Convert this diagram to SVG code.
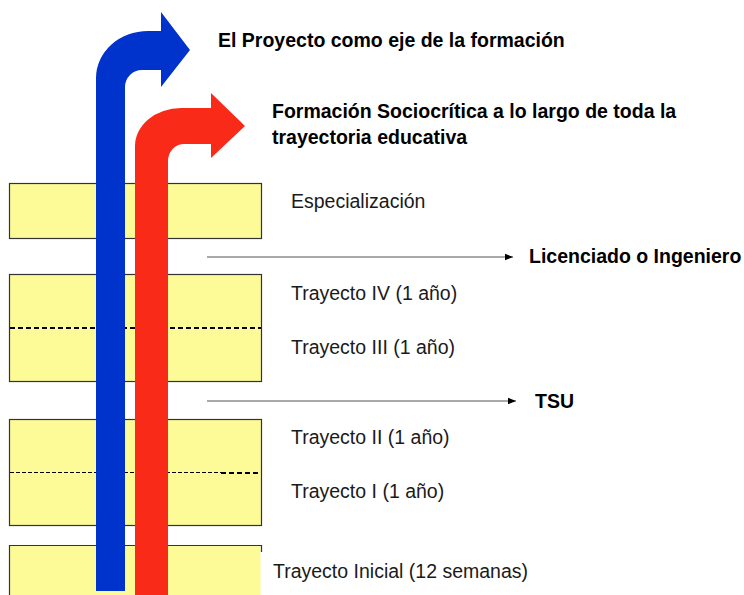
<svg xmlns="http://www.w3.org/2000/svg" width="744" height="595" viewBox="0 0 744 595">
  <style>
    .box { fill: #FCFB97; stroke: #333333; stroke-width: 1.2; }
    .fill { fill: #FCFB97; }
    .edge { fill: none; stroke: #333333; stroke-width: 1.2; }
    .dash { stroke: #000000; stroke-width: 2; stroke-dasharray: 5 3; fill: none; }
    .dashthin { stroke: #000000; stroke-width: 1; stroke-dasharray: 4 2; fill: none; }
    .lbl { font-family: "Liberation Sans", Arial, sans-serif; font-size: 19.5px; fill: #1a1a1a; }
    .bold { font-family: "Liberation Sans", Arial, sans-serif; font-size: 19.5px; font-weight: bold; fill: #000000; }
    .conn { stroke: #555555; stroke-width: 1.2; fill: none; }
  </style>
  <defs>
    <marker id="ah" viewBox="0 0 10 10" refX="10" refY="5" markerWidth="8" markerHeight="8" markerUnits="userSpaceOnUse" orient="auto">
      <path d="M0,1 L10,5 L0,9 Z" fill="#000000"/>
    </marker>
  </defs>

  <rect width="744" height="595" fill="#ffffff"/>

  <!-- levels -->
  <g id="especializacion">
    <rect class="box" x="9.5" y="183.5" width="252" height="55"/>
    <text class="lbl" x="291" y="208">Especialización</text>
  </g>
  <g id="trayectos-iii-iv">
    <rect class="box" x="9.5" y="274.5" width="252" height="107"/>
    <line class="dash" x1="10" y1="328" x2="261" y2="328"/>
    <text class="lbl" x="291" y="300">Trayecto IV (1 año)</text>
    <text class="lbl" x="291" y="354">Trayecto III (1 año)</text>
  </g>
  <g id="trayectos-i-ii">
    <rect class="box" x="9.5" y="419.5" width="252" height="106"/>
    <line class="dashthin" x1="10" y1="472.5" x2="221" y2="472.5"/>
    <line class="dash" x1="221" y1="473" x2="261" y2="473"/>
    <text class="lbl" x="291" y="444">Trayecto II (1 año)</text>
    <text class="lbl" x="291" y="498">Trayecto I (1 año)</text>
  </g>
  <g id="trayecto-inicial">
    <rect class="fill" x="9.5" y="545.5" width="251" height="60"/>
    <path class="edge" d="M9.5,600 V545.5 H261.5 V552"/>
    <text class="lbl" x="273" y="578">Trayecto Inicial (12 semanas)</text>
  </g>

  <!-- connectors -->
  <g id="connectors">
    <line class="conn" x1="207" y1="257" x2="513" y2="257" marker-end="url(#ah)"/>
    <line class="conn" x1="207" y1="401" x2="516" y2="401" marker-end="url(#ah)"/>
  </g>

  <g id="licenciado">
    <text class="bold" x="529" y="263">Licenciado o Ingeniero</text>
  </g>
  <g id="tsu">
    <text class="bold" x="535" y="408">TSU</text>
  </g>

  <!-- blue bent arrow -->
  <g id="proyecto">
    <path fill="#0033CC" d="M96,591 V78 A52,47 0 0 1 148,31 H161 V12 L190,50 L161,87 V70 H142 A17,17 0 0 0 125,87 V591 Z"/>
    <text class="bold" x="218" y="47">El Proyecto como eje de la formación</text>
  </g>

  <!-- red bent arrow -->
  <g id="sociocritica">
    <path fill="#FA2A19" d="M135,600 V146 A46,38 0 0 1 181,108 H211 V93 L245,126 L211,158 V144 H184 A16,17 0 0 0 168,161 V600 Z"/>
    <text class="bold" x="272" y="118">Formación Sociocrítica a lo largo de toda la</text>
    <text class="bold" x="272" y="144">trayectoria educativa</text>
  </g>
</svg>
